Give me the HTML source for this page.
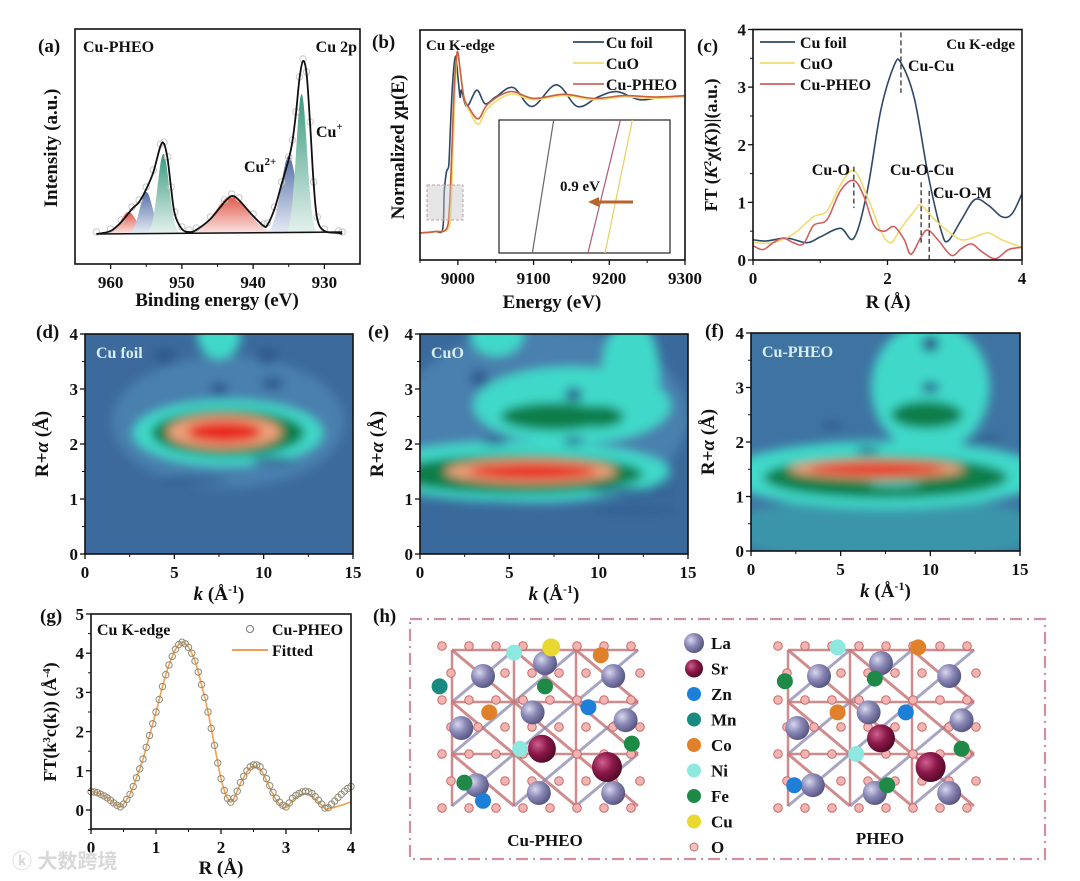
<!DOCTYPE html>
<html><head><meta charset="utf-8"><style>
html,body{margin:0;padding:0;background:#fff}
svg{display:block;font-family:"Liberation Serif",serif;font-weight:bold}
</style></head><body>
<svg id="fig" width="1080" height="881" viewBox="0 0 1080 881" xmlns="http://www.w3.org/2000/svg">
<defs>
<filter id="blur" x="-50%" y="-50%" width="200%" height="200%"><feGaussianBlur stdDeviation="5"/></filter>
<linearGradient id="gRed" x1="0" y1="0" x2="0" y2="1"><stop offset="0" stop-color="#e0584a"/><stop offset="1" stop-color="#fbe6e3"/></linearGradient>
<linearGradient id="gBlue" x1="0" y1="0" x2="0" y2="1"><stop offset="0" stop-color="#5570a8"/><stop offset="1" stop-color="#e8ecf5"/></linearGradient>
<linearGradient id="gGreen" x1="0" y1="0" x2="0" y2="1"><stop offset="0" stop-color="#3a9a80"/><stop offset="1" stop-color="#e6f2ee"/></linearGradient>
<radialGradient id="rLa" cx="0.35" cy="0.35" r="0.7"><stop offset="0" stop-color="#d8d8ee"/><stop offset="0.5" stop-color="#8886b4"/><stop offset="1" stop-color="#55537e"/></radialGradient>
<radialGradient id="rSr" cx="0.35" cy="0.35" r="0.7"><stop offset="0" stop-color="#d06090"/><stop offset="0.5" stop-color="#8a1848"/><stop offset="1" stop-color="#500a28"/></radialGradient>
<clipPath id="cd"><rect x="85" y="334" width="268" height="220"/></clipPath>
<clipPath id="ce"><rect x="420" y="334" width="268" height="220"/></clipPath>
<clipPath id="cf"><rect x="751" y="333" width="269" height="218"/></clipPath>
</defs>
<g id="root"></g>
<text x="12" y="868" font-family="Liberation Sans,'Noto Sans CJK SC',sans-serif" font-size="20" fill="#d8d8d8">ⓚ 大数跨境</text>
</svg>
<script>
// ---------- DATA ----------
// (a) XPS
const xpsE = [962,960,958.5,957,956,955,954,953,952.5,952,951.5,951,950,949,948,946,944,943,942,940,938.5,938,937,936,935,934.5,934,933.5,933,932.5,932,931.5,931,930,928,927.5];
const xpsI = [0,3,12,25,32,45,62,88,90,75,45,20,5,2,4,15,32,38,34,18,8,9,25,50,75,92,120,155,173,160,110,50,15,3,1,0];
const peakCenters = [957.5,955,952.6,943,935,933.2];
const peakHeights = [22,42,80,38,78,140];
const peakWidths = [1.1,0.9,0.8,2.3,1.1,0.75];
const peakFills = ['gRed','gBlue','gGreen','gRed','gBlue','gGreen'];
const xpsTicks = [960,950,940,930];
// (b) XANES
const foilE = [8950,8970,8980,8982,8985,8988,8990,8993,8997,9000,9003,9005,9012,9025,9036,9050,9073,9098,9130,9158,9185,9210,9240,9270,9300];
const foilMu = [0.0,0.01,0.03,0.3,0.45,0.5,0.75,1.1,1.3,1.15,1.0,1.05,0.93,1.05,0.95,1.0,1.07,0.93,1.09,0.93,1.0,1.04,0.98,1.0,1.0];
const cuoE = [8950,8970,8985,8990,8993,8996,8999,9002,9008,9015,9027,9040,9069,9100,9140,9180,9220,9260,9300];
const cuoMu = [0.0,0.01,0.02,0.1,0.5,1.0,1.3,1.25,1.0,0.9,0.8,0.92,1.02,0.98,1.01,0.98,1.0,0.99,1.0];
const pheoE = [8950,8970,8985,8989,8992,8995,8998,9000,9003,9008,9015,9027,9040,9069,9100,9140,9180,9220,9260,9300];
const pheoMu = [0.0,0.01,0.03,0.2,0.6,1.05,1.28,1.33,1.2,1.0,0.92,0.84,0.95,1.04,0.99,1.02,0.99,1.01,1.0,1.01];
const bTicks = [9000,9100,9200,9300];
const insetNames = ['foil','pheo','cuo'];
const insetBot = [0.195,0.52,0.62];
const insetTop = [0.32,0.71,0.78];
// (c) FT-EXAFS
const cR = [0,0.2,0.5,0.8,1.0,1.3,1.5,1.7,1.9,2.1,2.2,2.4,2.6,2.8,2.9,3.1,3.3,3.5,3.7,3.85,4.0];
const cFoil = [0.35,0.33,0.38,0.3,0.4,0.55,0.38,1.2,2.6,3.38,3.42,2.8,1.5,0.5,0.33,0.7,1.05,0.95,0.75,0.8,1.15];
const cR2 = [0,0.3,0.6,0.9,1.1,1.3,1.5,1.7,1.9,2.05,2.2,2.4,2.5,2.7,2.9,3.1,3.3,3.5,3.7,4.0];
const cCuO = [0.3,0.3,0.45,0.75,0.85,1.3,1.55,1.1,0.5,0.3,0.55,0.85,0.95,0.7,0.5,0.35,0.4,0.47,0.35,0.22];
const cR3 = [0,0.15,0.3,0.45,0.6,0.75,0.9,1.1,1.3,1.5,1.65,1.8,1.95,2.1,2.25,2.35,2.5,2.6,2.75,2.95,3.1,3.25,3.4,3.6,3.8,4.0];
const cPheo = [0.25,0.18,0.3,0.38,0.3,0.28,0.6,0.7,1.2,1.38,1.1,0.6,0.5,0.58,0.35,0.1,0.4,0.52,0.35,0.08,0.2,0.28,0.15,0.02,0.18,0.22];
// (g) fit
const gR = [0,0.05,0.1,0.15,0.2,0.25,0.3,0.35,0.4,0.45,0.5,0.55,0.6,0.65,0.7,0.75,0.8,0.85,0.9,0.95,1.0,1.05,1.1,1.15,1.2,1.25,1.3,1.35,1.4,1.45,1.5,1.55,1.6,1.65,1.7,1.75,1.8,1.85,1.9,1.95,2.0,2.05,2.1,2.15,2.2,2.25,2.3,2.35,2.4,2.45,2.5,2.55,2.6,2.65,2.7,2.75,2.8,2.85,2.9,2.95,3.0,3.05,3.1,3.15,3.2,3.25,3.3,3.35,3.4,3.45,3.5,3.55,3.6,3.65,3.7,3.75,3.8,3.85,3.9,3.95,4.0];
const gExp = [0.47,0.46,0.44,0.4,0.36,0.31,0.25,0.18,0.12,0.08,0.15,0.27,0.4,0.6,0.82,1.05,1.3,1.6,1.9,2.2,2.5,2.82,3.15,3.45,3.7,3.92,4.1,4.22,4.28,4.24,4.15,4.0,3.8,3.52,3.2,2.87,2.5,2.08,1.65,1.2,0.8,0.5,0.3,0.2,0.3,0.48,0.7,0.86,1.0,1.1,1.15,1.15,1.1,0.97,0.8,0.62,0.45,0.3,0.2,0.12,0.08,0.18,0.3,0.37,0.42,0.46,0.48,0.46,0.42,0.34,0.25,0.15,0.05,0.06,0.15,0.23,0.32,0.4,0.48,0.55,0.6];
const gFit = [0.47,0.46,0.44,0.4,0.36,0.31,0.25,0.18,0.12,0.08,0.15,0.27,0.4,0.6,0.82,1.05,1.3,1.6,1.9,2.2,2.5,2.82,3.15,3.45,3.7,3.92,4.1,4.22,4.28,4.24,4.15,4.0,3.8,3.52,3.2,2.87,2.5,2.08,1.65,1.2,0.8,0.5,0.3,0.2,0.3,0.48,0.68,0.84,0.98,1.07,1.12,1.1,1.05,0.92,0.75,0.57,0.4,0.25,0.15,0.08,0.06,0.14,0.25,0.31,0.36,0.4,0.42,0.4,0.36,0.28,0.2,0.12,0.03,0.04,0.05,0.07,0.1,0.12,0.15,0.18,0.2];
// WT blobs [k, R, rk, rR, level]
const blobsD = [[8,2.4,6.5,1.2,5],[8,2.2,5.3,0.6,1],[7.5,3.95,1.2,0.4,1],[8,2.2,4.3,0.42,2],[7.8,2.22,3.2,0.3,3],[7.8,2.22,2.1,0.19,4],[4.5,3.6,0.6,0.15,0],[10.2,3.6,0.6,0.15,0],[7.5,3.0,0.5,0.12,0],[10.5,3.1,0.6,0.12,0],[10.5,1.7,1.2,0.06,0],[6,1.35,2,0.06,0]];
const blobsE = [[7,2.5,8,1.6,5],[5.5,1.5,8.5,0.55,1],[8.5,2.7,5.5,0.7,1],[11.8,3.3,1.6,1.0,1],[4.3,4,1.5,0.4,1],[5.5,1.45,7,0.35,2],[7.5,2.5,3.0,0.25,2],[10,2.5,1.4,0.2,2],[6.2,1.5,4.8,0.22,3],[6.3,1.5,3.6,0.14,4],[3.3,3.2,0.5,0.15,0],[8.6,2.9,0.5,0.12,0],[4.2,2.05,0.7,0.07,0],[8.6,2.05,0.6,0.07,0],[12,1.15,2.5,0.05,0],[12,0.8,2.5,0.05,0]];
const blobsF = [[7.5,0.4,9,0.6,6],[7.5,1.4,9,0.62,1],[10,3,3.3,1.2,1],[7.5,1.35,6.8,0.38,2],[9.8,2.5,2.0,0.25,2],[7,1.5,4.9,0.17,3],[7,1.5,3.8,0.11,4],[10,3.8,0.5,0.15,0],[10,3,0.5,0.1,0],[4.5,2.3,0.6,0.07,0],[6.5,1.85,0.7,0.06,0],[13,2.05,1,0.06,0],[8,1.22,1.5,0.04,7]];
const levelColors = ['#2f5a8c','#3fd9c9','#0f7e48','#eea07a','#e8261e','#4a80ae','#3a95aa','#60e0d8'];
const legendNames = ['La','Sr','Zn','Mn','Co','Ni','Fe','Cu','O'];
const legendColors = ['url(#rLa)','url(#rSr)','#1e7fd8','#1a8a80','#e0802a','#8ee8e0','#1f8a48','#e8d830','#f4c0c0'];

// ---------- HELPERS ----------
const NS='http://www.w3.org/2000/svg';
const root=document.getElementById('root');
function el(tag,attrs,parent,text){const e=document.createElementNS(NS,tag);for(const k in attrs)e.setAttribute(k,attrs[k]);if(text!==undefined)e.textContent=text;(parent||root).appendChild(e);return e;}
function lin(d0,d1,r0,r1){return v=>r0+(v-d0)*(r1-r0)/(d1-d0);}
function smooth(p){if(p.length<2)return'';let d='M'+p[0][0].toFixed(1)+','+p[0][1].toFixed(1);for(let i=0;i<p.length-1;i++){const p0=p[Math.max(0,i-1)],p1=p[i],p2=p[i+1],p3=p[Math.min(p.length-1,i+2)];const c1x=p1[0]+(p2[0]-p0[0])/6,c1y=p1[1]+(p2[1]-p0[1])/6,c2x=p2[0]-(p3[0]-p1[0])/6,c2y=p2[1]-(p3[1]-p1[1])/6;d+=`C${c1x.toFixed(1)},${c1y.toFixed(1)} ${c2x.toFixed(1)},${c2y.toFixed(1)} ${p2[0].toFixed(1)},${p2[1].toFixed(1)}`;}return d;}
function txt(x,y,s,opts,parent){const t=el('text',Object.assign({x:x,y:y,'font-size':17,fill:'#111'},opts||{}),parent,s);return t;}
function frame(x,y,w,h,name){const r=el('rect',{x:x,y:y,width:w,height:h,fill:'none',stroke:'#111','stroke-width':1.6});}
function xTicks(vals,sx,yb,minor,fs){vals.forEach(v=>{el('line',{x1:sx(v),x2:sx(v),y1:yb,y2:yb+5,stroke:'#111','stroke-width':1.3});const t=txt(sx(v),yb+24,String(v),{'text-anchor':'middle','font-size':fs||17});});(minor||[]).forEach(v=>el('line',{x1:sx(v),x2:sx(v),y1:yb,y2:yb+3,stroke:'#111','stroke-width':1}));}
function yTicks(vals,sy,xl,minor,fs){vals.forEach(v=>{el('line',{x1:xl,x2:xl-5,y1:sy(v),y2:sy(v),stroke:'#111','stroke-width':1.3});const t=txt(xl-7,sy(v)+6,String(v),{'text-anchor':'end','font-size':fs||17});});(minor||[]).forEach(v=>el('line',{x1:xl,x2:xl-3,y1:sy(v),y2:sy(v),stroke:'#111','stroke-width':1}));}
function rotTitle(x,y,s,name,fs){const t=txt(x,y,s,{'text-anchor':'middle','font-size':fs||19,transform:`rotate(-90 ${x} ${y})`});return t;}
function label(x,y,s,name,opts){const t=txt(x,y,s,opts);return t;}

// ---------- (a) ----------
label(38,52,'(a)','panel-label-a',{'font-size':19});
const ax=lin(965,925,75,360), ay=v=>234-v;
peakCenters.forEach((c,i)=>{const pts=[];for(let e=c-4*peakWidths[i];e<=c+4*peakWidths[i];e+=0.1){pts.push([ax(e),ay(peakHeights[i]*Math.exp(-0.5*((e-c)/peakWidths[i])**2))]);}
 const p=el('path',{d:smooth(pts)+'Z',fill:`url(#${peakFills[i]})`,stroke:'none'});});
xpsE.forEach((e,i)=>{el('circle',{cx:ax(e),cy:ay(xpsI[i])-2,r:3.2,fill:'none',stroke:'#c8c8c8','stroke-width':1});});
el('line',{x1:ax(962),y1:ay(0),x2:ax(927.5),y2:ay(0)-2,stroke:'#111','stroke-width':1.5});
{const p=el('path',{d:smooth(xpsE.map((e,i)=>[ax(e),ay(xpsI[i])])),fill:'none',stroke:'#111','stroke-width':1.8});}
frame(75,29,285,235,'plot-frame-a');
xTicks(xpsTicks,ax,264,[955,945,935]);
label(217,306,'Binding energy (eV)','x-axis-title-a',{'text-anchor':'middle','font-size':19});
rotTitle(57,148,'Intensity (a.u.)','y-axis-title-a');
label(83,52,'Cu-PHEO','sample-label-a',{'font-size':16});
label(357,52,'Cu 2p','region-label-a',{'text-anchor':'end','font-size':16});
{const t=label(316,137,'Cu','cu-plus-label',{'font-size':16});el('tspan',{dy:-7,'font-size':11},t,'+');}
{const t=label(244,172,'Cu','cu2-plus-label',{'font-size':16});el('tspan',{dy:-7,'font-size':11},t,'2+');}

// ---------- (b) ----------
label(372,48,'(b)','panel-label-b',{'font-size':19});
const bx=lin(8950,9300,420,685), by=lin(0,1,233,97);
const bSeries=[[foilE,foilMu,'#2e4868','series-cu-foil'],[cuoE,cuoMu,'#f0dc70','series-cuo'],[pheoE,pheoMu,'#c9603e','series-cu-pheo']];
bSeries.forEach(s=>{const p=el('path',{d:smooth(s[0].map((e,i)=>[bx(e),by(s[1][i])])),fill:'none',stroke:s[2],'stroke-width':1.6});});
{const r=el('rect',{x:427,y:185,width:36,height:35,fill:'rgba(200,200,200,0.45)',stroke:'#c0a0a8','stroke-width':1,'stroke-dasharray':'3,2'});}
{const r=el('rect',{x:499,y:120,width:171,height:133,fill:'#fff',stroke:'#222','stroke-width':1.2});}
const inC=['#666','#b05878','#e6d060'];
insetNames.forEach((n,i)=>{const l=el('line',{x1:499+171*insetBot[i],y1:253,x2:499+171*insetTop[i],y2:120,stroke:inC[i],'stroke-width':1.2});});
{const l=el('line',{x1:633,y1:202,x2:598,y2:202,stroke:'#b8642c','stroke-width':3});el('path',{d:'M588,202 L599,197 L599,207 Z',fill:'#b8642c'});}
label(560,191,'0.9 eV','shift-label',{'font-size':15});
frame(420,30,265,230,'plot-frame-b');
xTicks(bTicks,bx,260,[8950,9050,9150,9250]);
label(552,308,'Energy (eV)','x-axis-title-b',{'text-anchor':'middle','font-size':19});
rotTitle(404,147,'Normalized χμ(E)','y-axis-title-b');
label(426,50,'Cu K-edge','edge-label-b',{'font-size':15});
[['Cu foil','#2e4868'],['CuO','#f0dc70'],['Cu-PHEO','#cc6666']].forEach((l,i)=>{const y=42+i*21;const g=el('g',{});el('line',{x1:573,x2:604,y1:y,y2:y,stroke:l[1],'stroke-width':1.8},g);txt(606,y+6,l[0],{'font-size':16},g);});

// ---------- (c) ----------
label(697,52,'(c)','panel-label-c',{'font-size':19});
const cx=lin(0,4,753,1022), cy=lin(0,4,260,29.5);
[[cR,cFoil,'#2e4868','series-cu-foil-ft'],[cR2,cCuO,'#f0dc70','series-cuo-ft'],[cR3,cPheo,'#d06060','series-cu-pheo-ft']].forEach(s=>{const p=el('path',{d:smooth(s[0].map((r,i)=>[cx(r),cy(s[1][i])])),fill:'none',stroke:s[2],'stroke-width':1.6});});
[[1.5,1.62,0.9],[2.2,3.95,2.9],[2.5,1.35,0.3],[2.62,1.2,0]].forEach(d=>{const l=el('line',{x1:cx(d[0]),x2:cx(d[0]),y1:cy(d[1]),y2:cy(d[2]),stroke:'#222','stroke-width':1.2,'stroke-dasharray':'5,3'});});
frame(753,29.5,269,230.5,'plot-frame-c');
xTicks([0,2,4],cx,260,[1,3]);
yTicks([0,1,2,3,4],cy,753,[0.5,1.5,2.5,3.5]);
label(888,308,'R (Å)','x-axis-title-c',{'text-anchor':'middle','font-size':19});
{const t=rotTitle(717,145,'','y-axis-title-c',18);t.appendChild(document.createTextNode('FT ('));el('tspan',{'font-style':'italic'},t,'K');el('tspan',{dy:-6,'font-size':11},t,'2');el('tspan',{dy:6},t,'χ(');el('tspan',{'font-style':'italic'},t,'K');t.appendChild(document.createTextNode('))|(a.u.)'));}
label(1015,49,'Cu K-edge','edge-label-c',{'text-anchor':'end','font-size':15});
label(908,71,'Cu-Cu','bond-label-cu-cu',{'font-size':16});
label(850,175,'Cu-O','bond-label-cu-o',{'text-anchor':'end','font-size':16});
label(890,175,'Cu-O-Cu','bond-label-cu-o-cu',{'font-size':16});
label(933,198,'Cu-O-M','bond-label-cu-o-m',{'font-size':16});
[['Cu foil','#2e4868'],['CuO','#f0dc70'],['Cu-PHEO','#d06060']].forEach((l,i)=>{const y=42+i*21;const g=el('g',{});el('line',{x1:760,x2:795,y1:y,y2:y,stroke:l[1],'stroke-width':1.8},g);txt(800,y+6,l[0],{'font-size':16},g);});

// ---------- (d)(e)(f) WT ----------
function wt(x0,y0,w,h,blobs,clip,name,bg,letter,lx,sample){
 label(lx,y0+4,'('+letter+')','panel-label-'+letter,{'font-size':19});
 const kx=lin(0,15,x0,x0+w), ry=lin(0,4,y0+h,y0);
 const g=el('g',{'clip-path':`url(#${clip})`});
 el('rect',{x:x0,y:y0,width:w,height:h,fill:bg},g);
 const gb=el('g',{filter:'url(#blur)'},g);
 blobs.forEach(b=>{const e=el('ellipse',{cx:kx(b[0]),cy:ry(b[1]),rx:b[2]*w/15,ry:b[3]*h/4,fill:levelColors[b[4]]},gb);});
 frame(x0,y0,w,h,'plot-frame-'+letter);
 xTicks([0,5,10,15],kx,y0+h,[2.5,7.5,12.5]);
 yTicks([0,1,2,3,4],ry,x0,[0.5,1.5,2.5,3.5]);
 {const t=label(x0+w/2,y0+h+46,'','x-axis-title-'+letter,{'text-anchor':'middle','font-size':19});el('tspan',{'font-style':'italic'},t,'k');t.appendChild(document.createTextNode(' (Å'));el('tspan',{dy:-7,'font-size':12},t,'-1');el('tspan',{dy:7},t,')');}
 {const t=rotTitle(x0-37,y0+h/2,'','y-axis-title-'+letter);t.appendChild(document.createTextNode('R+'));el('tspan',{'font-style':'italic'},t,'α');t.appendChild(document.createTextNode(' (Å)'));}
 label(x0+11,y0+24,sample,'sample-label-'+letter,{fill:'#d8eef0','font-size':16});
}
wt(85,334,268,220,blobsD,'cd','wt-map-cu-foil','#3c6a9c','d',36,'Cu foil');
wt(420,334,268,220,blobsE,'ce','wt-map-cuo','#3a6a9c','e',368,'CuO');
wt(751,333,269,218,blobsF,'cf','wt-map-cu-pheo','#3f74a2','f',705,'Cu-PHEO');

// ---------- (g) ----------
label(40,622,'(g)','panel-label-g',{'font-size':19});
const gx=lin(0,4,91,351), gy=lin(0,5,810,614);
{const p=el('path',{d:smooth(gR.map((r,i)=>[gx(r),gy(gFit[i])])),fill:'none',stroke:'#f0a050','stroke-width':1.6});}
gR.forEach((r,i)=>{const c=el('circle',{cx:gx(r),cy:gy(gExp[i]),r:3.2,fill:'none',stroke:'#8f8a74','stroke-width':1});});
frame(91,614,260,215,'plot-frame-g');
xTicks([0,1,2,3,4],gx,829,[0.5,1.5,2.5,3.5]);
yTicks([0,1,2,3,4,5],gy,91,[-0.5,0.5,1.5,2.5,3.5,4.5]);
label(221,874,'R (Å)','x-axis-title-g',{'text-anchor':'middle','font-size':19});
{const t=rotTitle(56,722,'','y-axis-title-g',18);t.appendChild(document.createTextNode('FT(k'));el('tspan',{dy:-6,'font-size':11},t,'3');el('tspan',{dy:6},t,'c(k)) (Å');el('tspan',{dy:-6,'font-size':11},t,'-4');el('tspan',{dy:6},t,')');}
label(97,635,'Cu K-edge','edge-label-g',{'font-size':16});
{const g=el('g',{});el('circle',{cx:250,cy:629,r:3.5,fill:'none',stroke:'#777','stroke-width':1},g);txt(272,635,'Cu-PHEO',{'font-size':16},g);}
{const g=el('g',{});el('line',{x1:232,x2:268,y1:650,y2:650,stroke:'#f0a050','stroke-width':2},g);txt(272,656,'Fitted',{'font-size':16},g);}

// ---------- (h) ----------
label(373,622,'(h)','panel-label-h',{'font-size':19});
{const r=el('rect',{x:410,y:619,width:635,height:240,fill:'none',stroke:'#d0909e','stroke-width':2.2,'stroke-dasharray':'12,5,2,5'});}
function crystal(x0,y0,name,special){
 const g=el('g',{});
 const W=62,H=52;
 for(let r=0;r<3;r++)for(let c=0;c<3;c++){const x=x0+c*W,y=y0+r*H;
  el('line',{x1:x,y1:y,x2:x+W,y2:y+H,stroke:'#c87878','stroke-width':3,opacity:0.85},g);
  el('line',{x1:x+W,y1:y,x2:x,y2:y+H,stroke:'#8a88b0','stroke-width':3,opacity:0.75},g);
  el('line',{x1:x,y1:y,x2:x,y2:y+H,stroke:'#c87878','stroke-width':2.5,opacity:0.85},g);
  el('line',{x1:x,y1:y,x2:x+W,y2:y,stroke:'#c87878','stroke-width':2.5,opacity:0.85},g);}
 for(let r=0;r<7;r++)for(let c=0;c<8;c++){const x=x0-10+c*27+(r%2)*9,y=y0-4+r*27;el('circle',{cx:x,cy:y,r:4.3,fill:'#f2b4b0',stroke:'#c86a6a','stroke-width':1},g);}
 [[0.5,0.5],[1.5,0.25],[2.6,0.5],[0.15,1.5],[1.3,1.2],[2.8,1.35],[0.4,2.6],[1.4,2.75],[2.6,2.75]].forEach(p=>el('circle',{cx:x0+p[0]*W,cy:y0+p[1]*H,r:12,fill:'url(#rLa)'},g));
 special.forEach(s=>el('circle',{cx:x0+s[0]*W,cy:y0+s[1]*H,r:s[3]||8,fill:s[2]},g));
}
crystal(452,650,'crystal-cu-pheo',[[1.45,1.9,'url(#rSr)',14],[2.5,2.25,'url(#rSr)',15],[-0.2,0.7,'#1a8a80'],[2.2,1.1,'#1e7fd8'],[0.6,1.2,'#e0802a'],[1.1,1.9,'#8ee8e0'],[2.9,1.8,'#1f8a48'],[1.6,-0.05,'#e8d830',9],[2.4,0.1,'#e0802a'],[0.2,2.55,'#1f8a48'],[0.5,2.9,'#1e7fd8'],[1.0,0.05,'#8ee8e0'],[1.5,0.7,'#1f8a48']]);
crystal(788,650,'crystal-pheo',[[1.5,1.7,'url(#rSr)',14],[2.3,2.25,'url(#rSr)',15],[-0.05,0.6,'#1f8a48'],[1.4,0.55,'#1f8a48'],[0.8,1.2,'#e0802a'],[1.9,1.2,'#1e7fd8'],[1.1,2.0,'#8ee8e0'],[2.8,1.9,'#1f8a48'],[1.6,2.6,'#1f8a48'],[0.1,2.6,'#1e7fd8'],[2.1,-0.05,'#e0802a'],[0.8,-0.05,'#8ee8e0']]);
label(545,846,'Cu-PHEO','structure-label-cu-pheo',{'text-anchor':'middle','font-size':17});
label(880,844,'PHEO','structure-label-pheo',{'text-anchor':'middle','font-size':17});
legendNames.forEach((n,i)=>{const y=643+i*25.5;const g=el('g',{});
 const r=[10,9,7,7,7,7,7,7,4][i];el('circle',{cx:694,cy:y,r:r,fill:legendColors[i],stroke:i===8?'#c86a6a':'none','stroke-width':1},g);txt(711,y+6,n,{'font-size':17},g);});
</script>
</body></html>
